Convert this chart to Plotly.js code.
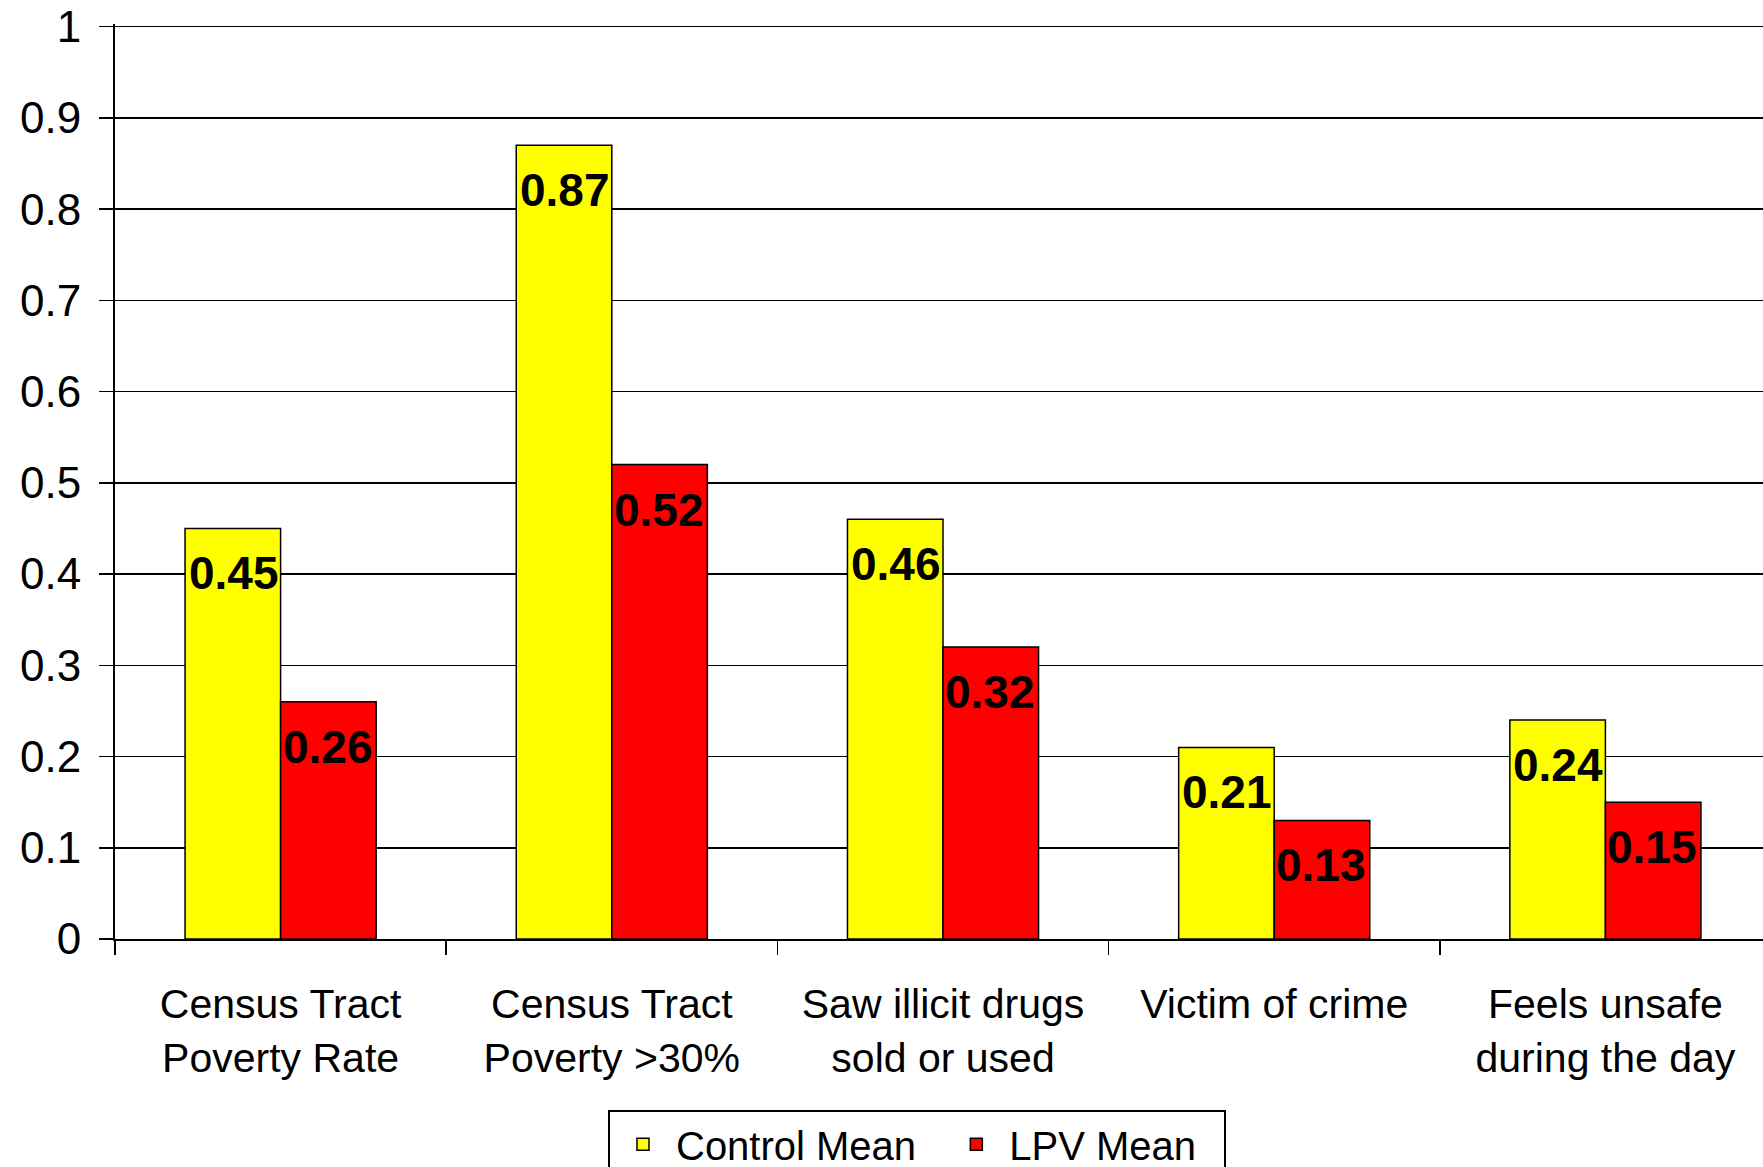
<!DOCTYPE html>
<html>
<head>
<meta charset="utf-8">
<script src="https://cdn.plot.ly/plotly-3.0.1.min.js"></script>
<style>
html, body { margin: 0; padding: 0; overflow: hidden; background: #fff; }
#chart { width: 1772px; height: 1185px; }
</style>
</head>
<body>
<div id="chart"></div>
<script>
const categories = [
  "Census Tract<br>Poverty Rate",
  "Census Tract<br>Poverty >30%",
  "Saw illicit drugs<br>sold or used",
  "Victim of crime",
  "Feels unsafe<br>during the day"
];
const controlMean = [0.45, 0.87, 0.46, 0.21, 0.24];
const lpvMean = [0.26, 0.52, 0.32, 0.13, 0.15];
const seriesNames = ["Control Mean", "LPV Mean"];
const yTickVals = [0, 0.1, 0.2, 0.3, 0.4, 0.5, 0.6, 0.7, 0.8, 0.9, 1];
const yTickText = ["0", "0.1", "0.2", "0.3", "0.4", "0.5", "0.6", "0.7", "0.8", "0.9", "1"];

const FONT = "Liberation Sans, Arial, sans-serif";
const PAD = "\u00a0\u00a0";

const traces = [
  {
    type: "bar", name: seriesNames[0] + PAD, x: categories, y: controlMean,
    marker: { color: "#FFFF00", line: { color: "#000", width: 1.5 } },
    hoverinfo: "none"
  },
  {
    type: "bar", name: seriesNames[1] + PAD, x: categories, y: lpvMean,
    marker: { color: "#FF0000", line: { color: "#000", width: 1.5 } },
    hoverinfo: "none"
  }
];

const annotations = [];
[controlMean, lpvMean].forEach((vals, si) => {
  vals.forEach((v, i) => {
    annotations.push({
      x: categories[i], y: v, xref: "x", yref: "y",
      text: v.toFixed(2), showarrow: false,
      xanchor: "center", yanchor: "middle",
      xshift: si === 0 ? -47 : 47, yshift: -45,
      font: { family: FONT, size: 46, color: "#000", weight: "bold" }
    });
  });
});

const layout = {
  width: 1772, height: 1185,
  margin: { l: 115, r: 1, t: 24, b: 246 },
  paper_bgcolor: "#fff", plot_bgcolor: "#fff",
  font: { family: FONT, color: "#000" },
  barmode: "group", bargap: 0.423, bargroupgap: 0,
  showlegend: true,
  legend: {
    orientation: "h", x: 0.2977, xanchor: "left", y: -0.1867, yanchor: "top",
    bordercolor: "#000", borderwidth: 2, bgcolor: "#fff",
    font: { family: FONT, size: 40, color: "#000" },
    itemwidth: 56,
    traceorder: "normal"
  },
  xaxis: {
    type: "category", showgrid: false, showline: true, linecolor: "#000", linewidth: 2,
    ticks: "outside", tickson: "boundaries", ticklen: 14, tickwidth: 1.5, tickcolor: "#000",
    tickfont: { family: FONT, size: 41, color: "#000" }, tickangle: 0,
    ticklabelstandoff: 28,
    fixedrange: true
  },
  yaxis: {
    range: [0, 1.003], tickvals: yTickVals, ticktext: yTickText,
    showgrid: true, gridcolor: "#000", gridwidth: 1.5,
    zeroline: false, showline: true, linecolor: "#000", linewidth: 2,
    ticks: "outside", ticklen: 14, tickwidth: 1.5, tickcolor: "#000",
    tickfont: { family: FONT, size: 44, color: "#000" },
    ticklabelstandoff: 9, ticklabeloverflow: "allow",
    fixedrange: true
  },
  annotations: annotations
};

Plotly.newPlot("chart", traces, layout, { displayModeBar: false, staticPlot: true });
</script>
</body>
</html>
